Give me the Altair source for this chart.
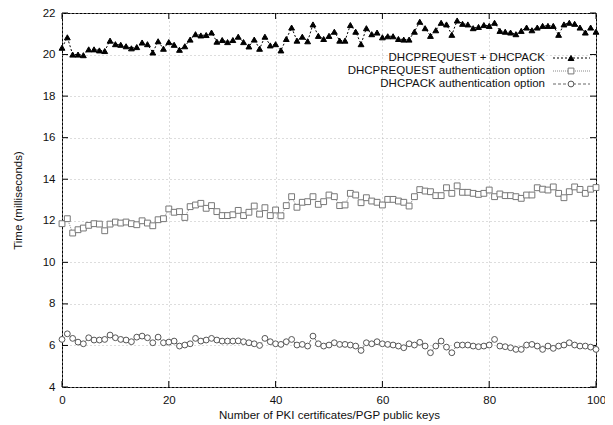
import altair as alt
import pandas as pd

# ---------------- data ----------------
x_vals = list(range(0, 101))

req_ack = [20.33, 20.83, 20.0, 20.0, 19.97, 20.25, 20.25, 20.2, 20.17, 20.67,
           20.5, 20.47, 20.4, 20.3, 20.36, 20.58, 20.5, 20.1, 20.64, 20.28,
           20.6, 20.47, 20.23, 20.4, 20.72, 20.98, 20.92, 20.94, 21.06, 20.62,
           20.7, 20.6, 20.7, 20.86,
           20.6, 20.39, 20.72, 20.28, 20.86, 20.44, 20.5, 20.2, 20.75, 21.3,
           20.67, 20.86, 20.64, 21.45, 20.9, 20.75, 20.9, 21.1, 20.67, 20.67,
           21.42, 21.1, 20.5, 21.27, 20.98, 21.06, 20.83, 20.88, 20.88, 20.75,
           20.72, 20.72, 21.1, 21.58,
           21.27, 20.9, 21.17, 21.53, 21.45, 20.95, 21.64, 21.48, 21.45, 21.27,
           21.33, 21.42, 21.38, 21.53, 21.14, 21.1, 21.06, 20.98, 21.14, 21.3,
           21.17, 21.3, 21.38, 21.38, 21.38, 20.95, 21.45, 21.53, 21.48, 21.3,
           21.06, 21.3, 21.1]

req_auth = [11.86, 12.1, 11.41, 11.57, 11.65, 11.78, 11.86, 11.84, 11.52, 11.84,
            11.94, 11.89, 11.94, 11.86, 11.81, 12.0, 11.89, 11.76, 12.05, 12.1,
            12.57, 12.41, 12.44, 12.16, 12.68, 12.76, 12.84, 12.6, 12.73, 12.44,
            12.25, 12.25, 12.29, 12.5,
            12.25, 12.41, 12.71, 12.32, 12.63, 12.25, 12.52, 12.24, 12.73, 13.16,
            12.65, 12.89, 12.92, 13.16, 12.79, 12.92, 13.24, 13.16, 12.73, 12.76,
            13.32, 13.24, 12.87, 13.11, 12.95, 12.89, 12.76, 13.03, 13.03, 12.95,
            12.89, 12.71, 13.16, 13.5,
            13.43, 13.4, 13.21, 13.21, 13.59, 13.32, 13.68, 13.37, 13.37, 13.32,
            13.27, 13.32, 13.48, 13.16, 13.29, 13.21, 13.21, 13.16, 13.08, 13.24,
            13.24, 13.59, 13.52, 13.48, 13.63, 13.32, 13.11, 13.4, 13.63, 13.51,
            13.32, 13.52, 13.6]

ack_auth = [6.29, 6.56, 6.34, 6.16, 6.08, 6.37, 6.26, 6.26, 6.29, 6.5,
            6.37, 6.29, 6.26, 6.18, 6.4, 6.45, 6.37, 6.13, 6.4, 6.13,
            6.16, 6.21, 5.97, 6.02, 6.08, 6.34, 6.21, 6.26, 6.34, 6.26,
            6.21, 6.21, 6.21, 6.22,
            6.18, 6.13, 6.08, 6.0, 6.34, 6.18, 6.08, 6.05, 6.18, 6.29,
            6.02, 6.05, 5.97, 6.45, 6.08, 5.97, 6.02, 6.13, 6.05, 6.05,
            6.02, 5.97, 5.76, 6.13, 6.08, 6.18, 6.08, 6.05, 6.02, 5.97,
            5.89, 6.08, 6.02, 6.15,
            5.97, 5.65, 5.97, 6.21, 5.92, 5.65, 6.02, 6.02, 6.02, 5.97,
            5.94, 5.97, 6.02, 6.29, 5.97, 5.94, 5.89, 5.81, 5.81, 6.02,
            6.05, 5.97, 5.81, 5.97, 5.86, 5.97, 6.02, 6.13, 6.02, 5.97,
            5.97, 5.92, 5.81]

series_names = ["DHCPREQUEST + DHCPACK",
                "DHCPREQUEST authentication option",
                "DHCPACK authentication option"]
x_ticks = [0, 20, 40, 60, 80, 100]
y_ticks = [4, 6, 8, 10, 12, 14, 16, 18, 20, 22]

# ---------------- layout / style ----------------
W, H = 534, 374
FONT = "Liberation Sans"
FS = 11.5
TICK = 6
styles = [
    dict(shape="triangle-up", fill="black", stroke="black", line="black", dash=[2, 2]),
    dict(shape="square", fill="white", stroke="#777777", line="#888888", dash=[1, 1]),
    dict(shape="circle", fill="white", stroke="#555555", line="#666666", dash=[3, 2]),
]

xs = alt.Scale(domain=[0, 100], nice=False)
ys = alt.Scale(domain=[4, 22], nice=False)

common = dict(grid=True, gridDash=[1, 3], gridColor="#bbbbbb",
              ticks=False, domain=False, labelFlush=False,
              labelFont=FONT, labelFontSize=FS, titleFont=FONT, titleFontSize=FS,
              titleFontWeight="normal", labelColor="#111", titleColor="#111")
x_axis = alt.Axis(values=x_ticks, title="Number of PKI certificates/PGP public keys",
                  labelPadding=7, titlePadding=4, **common)
y_axis = alt.Axis(values=y_ticks, title="Time (milliseconds)",
                  labelPadding=7, titlePadding=19, **common)

layers = []

# grid/axes base
base_df = pd.DataFrame({"x": x_vals, "y": req_ack})
layers.append(alt.Chart(base_df).mark_point(opacity=0).encode(
    x=alt.X("x:Q", scale=xs, axis=x_axis),
    y=alt.Y("y:Q", scale=ys, axis=y_axis)))

# inward ticks
ytdf = pd.DataFrame({"v": y_ticks})
xtdf = pd.DataFrame({"v": x_ticks})
for a, b in [(0, TICK), (W - TICK, W)]:
    layers.append(alt.Chart(ytdf).mark_rule(color="black", strokeWidth=1).encode(
        y=alt.Y("v:Q", scale=ys), x=alt.value(a), x2=alt.value(b)))
for a, b in [(H, H - TICK), (0, TICK)]:
    layers.append(alt.Chart(xtdf).mark_rule(color="black", strokeWidth=1).encode(
        x=alt.X("v:Q", scale=xs), y=alt.value(a), y2=alt.value(b)))

# series
for name, vals, st in zip(series_names, [req_ack, req_auth, ack_auth], styles):
    df = pd.DataFrame({"x": x_vals, "y": vals})
    enc = dict(x=alt.X("x:Q", scale=xs), y=alt.Y("y:Q", scale=ys))
    layers.append(alt.Chart(df).mark_line(color=st["line"], strokeWidth=1,
                                          strokeDash=st["dash"]).encode(**enc))
    layers.append(alt.Chart(df).mark_point(shape=st["shape"], filled=True,
                                           fill=st["fill"], stroke=st["stroke"],
                                           strokeWidth=1, size=34, opacity=1).encode(**enc))

# legend (manual, gnuplot style: label left, sample right)
row_y = [45, 58, 71]
for name, st, ry in zip(series_names, styles, row_y):
    ldf = pd.DataFrame({"name": [name]})
    layers.append(alt.Chart(ldf).mark_text(align="right", baseline="middle", font=FONT,
                                           fontSize=FS, color="#111").encode(
        text="name:N", x=alt.value(483), y=alt.value(ry)))
    layers.append(alt.Chart(ldf).mark_rule(color=st["line"], strokeWidth=1,
                                           strokeDash=st["dash"]).encode(
        x=alt.value(491), x2=alt.value(528), y=alt.value(ry)))
    layers.append(alt.Chart(ldf).mark_point(shape=st["shape"], filled=True,
                                            fill=st["fill"], stroke=st["stroke"],
                                            strokeWidth=1, size=34, opacity=1).encode(
        x=alt.value(509), y=alt.value(ry)))

chart = alt.layer(*layers).properties(
    width=W, height=H,
    autosize=alt.AutoSizeParams(type="none"),
    padding={"left": 54, "top": 5, "right": 9, "bottom": 38},
    background="white",
).configure_view(stroke="black", strokeWidth=1)

chart.save("out.html", embed_options={"renderer": "svg", "actions": False})
